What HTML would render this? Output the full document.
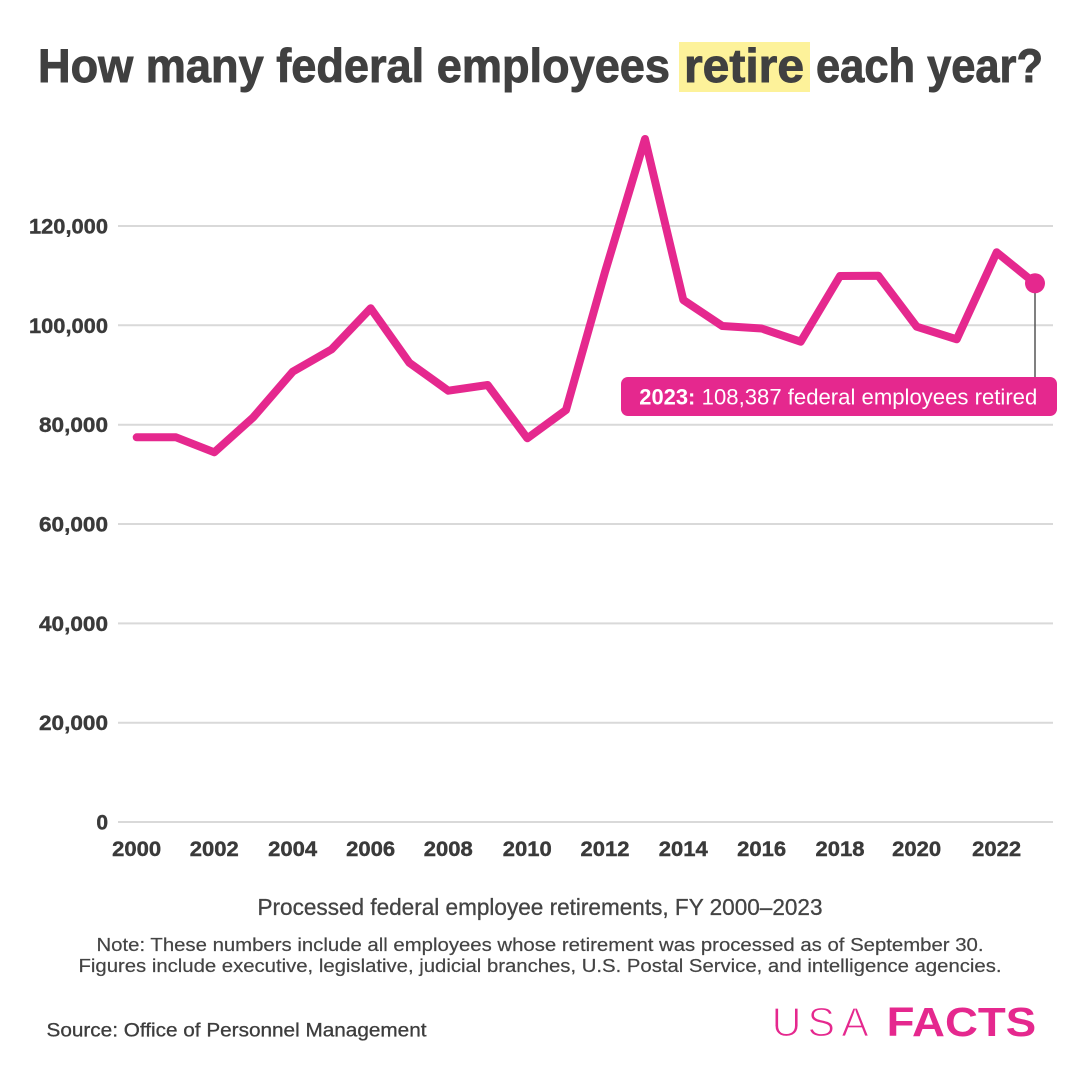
<!DOCTYPE html>
<html>
<head>
<meta charset="utf-8">
<style>
  html, body { margin: 0; padding: 0; background: #ffffff; }
  body { width: 1080px; height: 1081px; overflow: hidden; }
  svg { display: block; }
  text { font-family: "Liberation Sans", "DejaVu Sans", sans-serif; }
</style>
</head>
<body>
<svg width="1080" height="1081" viewBox="0 0 1080 1081" xmlns="http://www.w3.org/2000/svg">
  <rect x="0" y="0" width="1080" height="1081" fill="#ffffff"/>

  <!-- Title -->
  <rect x="679" y="42" width="131" height="50" fill="#fdf29a"/>
  <g font-size="47" font-weight="bold" fill="#404040" stroke="#404040" stroke-width="0.9">
    <text x="38" y="82" textLength="632" lengthAdjust="spacingAndGlyphs">How many federal employees</text>
    <text x="684" y="82" textLength="120" lengthAdjust="spacingAndGlyphs">retire</text>
    <text x="816" y="82" textLength="227" lengthAdjust="spacingAndGlyphs">each year?</text>
  </g>

  <!-- Gridlines -->
  <g stroke="#d9d9d9" stroke-width="2">
    <line x1="118" y1="226" x2="1053" y2="226"/>
    <line x1="118" y1="325.3" x2="1053" y2="325.3"/>
    <line x1="118" y1="424.7" x2="1053" y2="424.7"/>
    <line x1="118" y1="524" x2="1053" y2="524"/>
    <line x1="118" y1="623.4" x2="1053" y2="623.4"/>
    <line x1="118" y1="722.7" x2="1053" y2="722.7"/>
    <line x1="118" y1="822" x2="1053" y2="822"/>
  </g>

  <!-- Y labels -->
  <g font-size="21" font-weight="bold" fill="#3a3a3a" stroke="#3a3a3a" stroke-width="0.4" text-anchor="end">
    <text x="108" y="233.5" textLength="79" lengthAdjust="spacingAndGlyphs">120,000</text>
    <text x="108" y="332.8" textLength="79" lengthAdjust="spacingAndGlyphs">100,000</text>
    <text x="108" y="432.2" textLength="69" lengthAdjust="spacingAndGlyphs">80,000</text>
    <text x="108" y="531.5" textLength="69" lengthAdjust="spacingAndGlyphs">60,000</text>
    <text x="108" y="630.9" textLength="69" lengthAdjust="spacingAndGlyphs">40,000</text>
    <text x="108" y="730.2" textLength="69" lengthAdjust="spacingAndGlyphs">20,000</text>
    <text x="108" y="829.5">0</text>
  </g>

  <!-- X labels -->
  <g font-size="21" font-weight="bold" fill="#3a3a3a" stroke="#3a3a3a" stroke-width="0.4" text-anchor="middle">
    <text x="136.7" y="856" textLength="49" lengthAdjust="spacingAndGlyphs">2000</text>
    <text x="214.3" y="856" textLength="49" lengthAdjust="spacingAndGlyphs">2002</text>
    <text x="292.7" y="856" textLength="49" lengthAdjust="spacingAndGlyphs">2004</text>
    <text x="370.7" y="856" textLength="49" lengthAdjust="spacingAndGlyphs">2006</text>
    <text x="448.3" y="856" textLength="49" lengthAdjust="spacingAndGlyphs">2008</text>
    <text x="527.3" y="856" textLength="49" lengthAdjust="spacingAndGlyphs">2010</text>
    <text x="605" y="856" textLength="49" lengthAdjust="spacingAndGlyphs">2012</text>
    <text x="683.3" y="856" textLength="49" lengthAdjust="spacingAndGlyphs">2014</text>
    <text x="761.7" y="856" textLength="49" lengthAdjust="spacingAndGlyphs">2016</text>
    <text x="840" y="856" textLength="49" lengthAdjust="spacingAndGlyphs">2018</text>
    <text x="916.7" y="856" textLength="49" lengthAdjust="spacingAndGlyphs">2020</text>
    <text x="996.7" y="856" textLength="49" lengthAdjust="spacingAndGlyphs">2022</text>
  </g>

  <!-- Leader line -->
  <line x1="1035" y1="284" x2="1035" y2="378" stroke="#555555" stroke-width="1.5"/>

  <!-- Data line -->
  <polyline fill="none" stroke="#e5288e" stroke-width="8" stroke-linejoin="round" stroke-linecap="round"
    points="136.7,437.3 176,437.3 214.3,452.3 253.3,417.3 292.7,371.7 331.7,349.3 370.7,308.3 409.3,362.7 448.3,390.7 487.7,385 527.3,438.3 566,410 605,272 645,139 683.3,300 722.3,326 761.7,328.5 800.7,341.7 840,276 878.3,275.7 916.7,326.7 956.7,339.3 996.7,252.3 1035,283.3"/>
  <circle cx="1035" cy="283.3" r="10" fill="#e5288e"/>

  <!-- Annotation box -->
  <rect x="621" y="377" width="436" height="39" rx="7" ry="7" fill="#e5288e"/>
  <text x="639.3" y="404.3" font-size="22" font-weight="bold" fill="#ffffff" textLength="56" lengthAdjust="spacingAndGlyphs">2023:</text>
  <text x="701.7" y="404.3" font-size="22" fill="#ffffff" textLength="335.6" lengthAdjust="spacingAndGlyphs">108,387 federal employees retired</text>

  <!-- Subtitle / notes -->
  <text x="540" y="915" font-size="23" fill="#444444" stroke="#444444" stroke-width="0.3" text-anchor="middle" textLength="565" lengthAdjust="spacingAndGlyphs">Processed federal employee retirements, FY 2000–2023</text>
  <text x="540" y="951" font-size="18" fill="#444444" stroke="#444444" stroke-width="0.2" text-anchor="middle" textLength="887" lengthAdjust="spacingAndGlyphs">Note: These numbers include all employees whose retirement was processed as of September 30.</text>
  <text x="540" y="972" font-size="18" fill="#444444" stroke="#444444" stroke-width="0.2" text-anchor="middle" textLength="923" lengthAdjust="spacingAndGlyphs">Figures include executive, legislative, judicial branches, U.S. Postal Service, and intelligence agencies.</text>

  <!-- Source -->
  <text x="46.5" y="1036.7" font-size="19" fill="#3d3d3d" stroke="#3d3d3d" stroke-width="0.3" textLength="380" lengthAdjust="spacingAndGlyphs">Source: Office of Personnel Management</text>

  <!-- Logo -->
  <text x="771.7" y="1036" font-size="41" fill="#e5288e" stroke="#ffffff" stroke-width="1.2" textLength="97" lengthAdjust="spacing">USA</text>
  <text x="886.7" y="1036" font-size="41" font-weight="bold" fill="#e5288e" textLength="149.5" lengthAdjust="spacingAndGlyphs">FACTS</text>
</svg>
</body>
</html>
